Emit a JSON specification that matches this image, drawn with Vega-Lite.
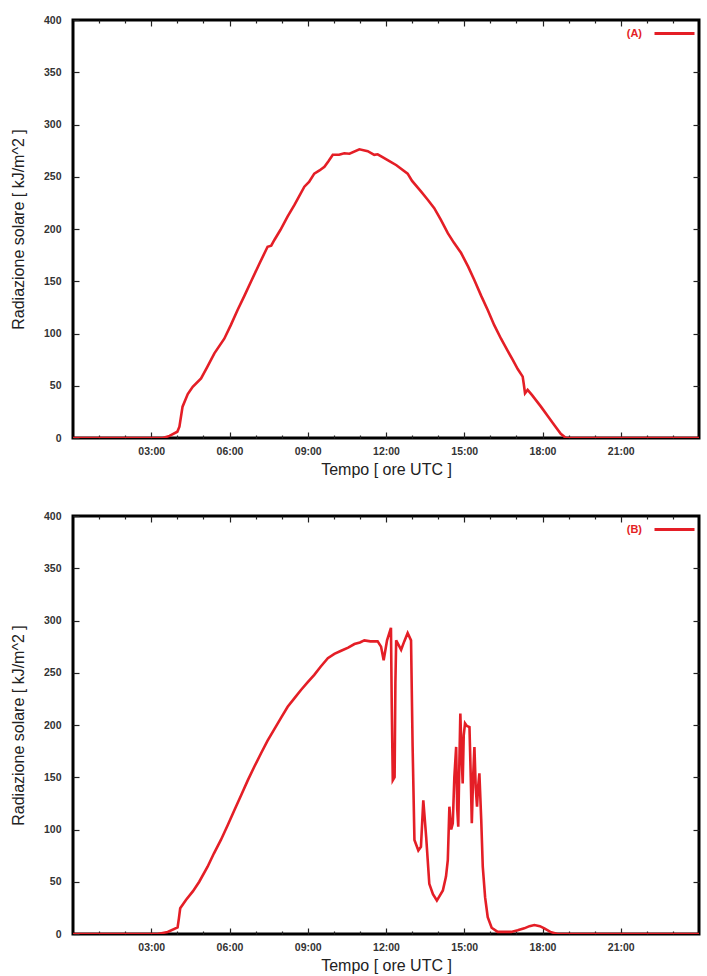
{
  "$schema": "https://vega.github.io/schema/vega-lite/v6.json",
  "background": "white",
  "padding": {"left": 8, "top": 10, "right": 8, "bottom": 2},
  "spacing": 27,
  "config": {
    "view": {"stroke": "black", "strokeWidth": 3},
    "font": "Liberation Sans",
    "axis": {
      "domain": false,
      "grid": false,
      "tickColor": "#222",
      "tickWidth": 1.2,
      "labelFont": "Liberation Sans",
      "labelFontSize": 10.5,
      "labelFontWeight": "bold",
      "labelColor": "#333",
      "titleFont": "Liberation Sans",
      "titleFontSize": 16,
      "titleFontWeight": "normal",
      "titleColor": "#222"
    },
    "legend": {
      "labelFont": "Liberation Sans",
      "labelFontSize": 11,
      "labelFontWeight": "bold",
      "labelColor": "#e41e26"
    }
  },
  "datasets": {
    "A": [
      {"s":"(A)","h":0,"v":0},{"s":"(A)","h":3.44,"v":0},{"s":"(A)","h":3.7,"v":2},{"s":"(A)","h":4.0,"v":6},{"s":"(A)","h":4.08,"v":10.8},{"s":"(A)","h":4.2,"v":30},{"s":"(A)","h":4.4,"v":42},{"s":"(A)","h":4.59,"v":49},{"s":"(A)","h":4.91,"v":57},{"s":"(A)","h":5.15,"v":68},{"s":"(A)","h":5.42,"v":81},{"s":"(A)","h":5.8,"v":95},{"s":"(A)","h":6.05,"v":108},{"s":"(A)","h":6.31,"v":122.5},{"s":"(A)","h":6.57,"v":136},{"s":"(A)","h":6.83,"v":150},{"s":"(A)","h":7.15,"v":167},{"s":"(A)","h":7.46,"v":183},{"s":"(A)","h":7.6,"v":184},{"s":"(A)","h":7.72,"v":189.5},{"s":"(A)","h":7.95,"v":199},{"s":"(A)","h":8.23,"v":212},{"s":"(A)","h":8.49,"v":223},{"s":"(A)","h":8.87,"v":240.5},{"s":"(A)","h":9.05,"v":245},{"s":"(A)","h":9.25,"v":253},{"s":"(A)","h":9.45,"v":256},{"s":"(A)","h":9.64,"v":259.6},{"s":"(A)","h":9.8,"v":265},{"s":"(A)","h":9.96,"v":271},{"s":"(A)","h":10.2,"v":271},{"s":"(A)","h":10.4,"v":272.5},{"s":"(A)","h":10.6,"v":272},{"s":"(A)","h":10.98,"v":276.3},{"s":"(A)","h":11.3,"v":274.5},{"s":"(A)","h":11.55,"v":271},{"s":"(A)","h":11.68,"v":271.5},{"s":"(A)","h":11.85,"v":269},{"s":"(A)","h":12.13,"v":265},{"s":"(A)","h":12.4,"v":261},{"s":"(A)","h":12.83,"v":253},{"s":"(A)","h":13.0,"v":246},{"s":"(A)","h":13.34,"v":236},{"s":"(A)","h":13.6,"v":228},{"s":"(A)","h":13.85,"v":220},{"s":"(A)","h":14.1,"v":209},{"s":"(A)","h":14.37,"v":196},{"s":"(A)","h":14.6,"v":187},{"s":"(A)","h":14.88,"v":177},{"s":"(A)","h":15.15,"v":164},{"s":"(A)","h":15.39,"v":151},{"s":"(A)","h":15.65,"v":136},{"s":"(A)","h":15.9,"v":122.5},{"s":"(A)","h":16.15,"v":108},{"s":"(A)","h":16.41,"v":95},{"s":"(A)","h":16.65,"v":84},{"s":"(A)","h":16.86,"v":74.7},{"s":"(A)","h":17.05,"v":66},{"s":"(A)","h":17.24,"v":58.7},{"s":"(A)","h":17.28,"v":52},{"s":"(A)","h":17.33,"v":42.8},{"s":"(A)","h":17.43,"v":46},{"s":"(A)","h":17.6,"v":41},{"s":"(A)","h":17.94,"v":30},{"s":"(A)","h":18.2,"v":21},{"s":"(A)","h":18.45,"v":12.4},{"s":"(A)","h":18.7,"v":4},{"s":"(A)","h":18.9,"v":0},{"s":"(A)","h":24,"v":0}
    ],
    "B": [
      {"s":"(B)","h":0,"v":0},{"s":"(B)","h":3.25,"v":0},{"s":"(B)","h":3.63,"v":2},{"s":"(B)","h":4.01,"v":6.4},{"s":"(B)","h":4.06,"v":15},{"s":"(B)","h":4.11,"v":24.6},{"s":"(B)","h":4.33,"v":32.5},{"s":"(B)","h":4.6,"v":41},{"s":"(B)","h":4.84,"v":50},{"s":"(B)","h":5.16,"v":64.4},{"s":"(B)","h":5.4,"v":77},{"s":"(B)","h":5.67,"v":90},{"s":"(B)","h":5.93,"v":104},{"s":"(B)","h":6.19,"v":118.7},{"s":"(B)","h":6.45,"v":133},{"s":"(B)","h":6.7,"v":147},{"s":"(B)","h":6.95,"v":160},{"s":"(B)","h":7.21,"v":173},{"s":"(B)","h":7.46,"v":185},{"s":"(B)","h":7.72,"v":196},{"s":"(B)","h":7.98,"v":207},{"s":"(B)","h":8.23,"v":217.5},{"s":"(B)","h":8.5,"v":226},{"s":"(B)","h":8.74,"v":233.5},{"s":"(B)","h":9.0,"v":241},{"s":"(B)","h":9.25,"v":248},{"s":"(B)","h":9.5,"v":256},{"s":"(B)","h":9.77,"v":264},{"s":"(B)","h":10.02,"v":268},{"s":"(B)","h":10.28,"v":271},{"s":"(B)","h":10.55,"v":274},{"s":"(B)","h":10.79,"v":277.5},{"s":"(B)","h":11.0,"v":279},{"s":"(B)","h":11.17,"v":281},{"s":"(B)","h":11.4,"v":280},{"s":"(B)","h":11.68,"v":280},{"s":"(B)","h":11.81,"v":275},{"s":"(B)","h":11.91,"v":262},{"s":"(B)","h":12.04,"v":281},{"s":"(B)","h":12.19,"v":293},{"s":"(B)","h":12.22,"v":220},{"s":"(B)","h":12.26,"v":147},{"s":"(B)","h":12.33,"v":150},{"s":"(B)","h":12.36,"v":240},{"s":"(B)","h":12.39,"v":281},{"s":"(B)","h":12.58,"v":272},{"s":"(B)","h":12.7,"v":280},{"s":"(B)","h":12.83,"v":288},{"s":"(B)","h":12.96,"v":281},{"s":"(B)","h":13.02,"v":180},{"s":"(B)","h":13.09,"v":90},{"s":"(B)","h":13.24,"v":80},{"s":"(B)","h":13.34,"v":83.5},{"s":"(B)","h":13.43,"v":128},{"s":"(B)","h":13.54,"v":93},{"s":"(B)","h":13.66,"v":48},{"s":"(B)","h":13.8,"v":38},{"s":"(B)","h":13.95,"v":32},{"s":"(B)","h":14.18,"v":41.6},{"s":"(B)","h":14.3,"v":55},{"s":"(B)","h":14.37,"v":70.8},{"s":"(B)","h":14.43,"v":121.8},{"s":"(B)","h":14.5,"v":100},{"s":"(B)","h":14.56,"v":106},{"s":"(B)","h":14.62,"v":150},{"s":"(B)","h":14.69,"v":179},{"s":"(B)","h":14.73,"v":120},{"s":"(B)","h":14.77,"v":102.7},{"s":"(B)","h":14.81,"v":160},{"s":"(B)","h":14.85,"v":211},{"s":"(B)","h":14.9,"v":170},{"s":"(B)","h":14.94,"v":144},{"s":"(B)","h":14.98,"v":190},{"s":"(B)","h":15.03,"v":201.5},{"s":"(B)","h":15.1,"v":199},{"s":"(B)","h":15.2,"v":198},{"s":"(B)","h":15.25,"v":150},{"s":"(B)","h":15.29,"v":106},{"s":"(B)","h":15.34,"v":150},{"s":"(B)","h":15.39,"v":179},{"s":"(B)","h":15.44,"v":140},{"s":"(B)","h":15.49,"v":121.8},{"s":"(B)","h":15.53,"v":140},{"s":"(B)","h":15.58,"v":153.7},{"s":"(B)","h":15.65,"v":110},{"s":"(B)","h":15.71,"v":64.4},{"s":"(B)","h":15.8,"v":35},{"s":"(B)","h":15.9,"v":16},{"s":"(B)","h":16.05,"v":6},{"s":"(B)","h":16.28,"v":2},{"s":"(B)","h":16.8,"v":2},{"s":"(B)","h":17.05,"v":3.5},{"s":"(B)","h":17.3,"v":5.4},{"s":"(B)","h":17.5,"v":7.5},{"s":"(B)","h":17.69,"v":8.6},{"s":"(B)","h":17.9,"v":7.5},{"s":"(B)","h":18.07,"v":5.4},{"s":"(B)","h":18.3,"v":2},{"s":"(B)","h":18.58,"v":0},{"s":"(B)","h":24,"v":0}
    ]
  },
  "resolve": {"scale": {"color": "independent"}, "legend": {"color": "independent"}},
  "vconcat": [
    {
      "width": 626, "height": 418,
      "data": {"name": "A"},
      "resolve": {"axis": {"x": "independent", "y": "independent"}},
      "layer": [
        {
          "mark": {"type": "line", "strokeWidth": 2.6, "clip": true},
          "encoding": {
            "x": {"field": "h", "type": "quantitative", "scale": {"domain": [0, 24], "nice": false}, "title": "Tempo [ ore UTC ]",
                  "axis": {"orient": "bottom", "values": [3, 6, 9, 12, 15, 18, 21], "tickSize": -6, "labelPadding": 14, "titlePadding": 5,
                           "labelExpr": "(datum.value < 10 ? '0' : '') + datum.value + ':00'"}},
            "y": {"field": "v", "type": "quantitative", "scale": {"domain": [0, 400], "nice": false}, "title": "Radiazione solare [ kJ/m^2 ]",
                  "axis": {"orient": "left", "values": [0, 50, 100, 150, 200, 250, 300, 350, 400], "tickSize": -6, "labelPadding": 18, "titlePadding": 17}},
            "color": {"field": "s", "type": "nominal", "scale": {"range": ["#e41e26"]},
                      "legend": {"orient": "none", "legendX": 580, "legendY": -8, "title": null, "symbolType": "stroke", "symbolSize": 1600, "symbolStrokeWidth": 3, "labelAlign": "right", "labelOffset": -54, "padding": 0}}
          }
        },
        {
          "mark": {"type": "line", "opacity": 0},
          "encoding": {
            "x": {"field": "h", "type": "quantitative", "title": null,
                  "axis": {"orient": "bottom", "values": [1,2,4,5,7,8,10,11,13,14,16,17,19,20,22,23], "tickSize": -3, "labels": false}},
            "y": {"field": "v", "type": "quantitative", "title": null,
                  "axis": {"orient": "right", "values": [50, 100, 150, 200, 250, 300, 350], "tickSize": -6, "labels": false}}
          }
        },
        {
          "mark": {"type": "line", "opacity": 0},
          "encoding": {
            "x": {"field": "h", "type": "quantitative", "title": null,
                  "axis": {"orient": "top", "values": [1,2,4,5,7,8,10,11,13,14,16,17,19,20,22,23], "tickSize": -3, "labels": false}},
            "y": {"field": "v", "type": "quantitative", "axis": null}
          }
        },
        {
          "mark": {"type": "line", "opacity": 0},
          "encoding": {
            "x": {"field": "h", "type": "quantitative", "title": null,
                  "axis": {"orient": "top", "values": [3, 6, 9, 12, 15, 18, 21], "tickSize": -6, "labels": false}},
            "y": {"field": "v", "type": "quantitative", "axis": null}
          }
        }
      ]
    },
    {
      "width": 626, "height": 418,
      "data": {"name": "B"},
      "resolve": {"axis": {"x": "independent", "y": "independent"}},
      "layer": [
        {
          "mark": {"type": "line", "strokeWidth": 2.6, "clip": true},
          "encoding": {
            "x": {"field": "h", "type": "quantitative", "scale": {"domain": [0, 24], "nice": false}, "title": "Tempo [ ore UTC ]",
                  "axis": {"orient": "bottom", "values": [3, 6, 9, 12, 15, 18, 21], "tickSize": -6, "labelPadding": 14, "titlePadding": 5,
                           "labelExpr": "(datum.value < 10 ? '0' : '') + datum.value + ':00'"}},
            "y": {"field": "v", "type": "quantitative", "scale": {"domain": [0, 400], "nice": false}, "title": "Radiazione solare [ kJ/m^2 ]",
                  "axis": {"orient": "left", "values": [0, 50, 100, 150, 200, 250, 300, 350, 400], "tickSize": -6, "labelPadding": 18, "titlePadding": 17}},
            "color": {"field": "s", "type": "nominal", "scale": {"range": ["#e41e26"]},
                      "legend": {"orient": "none", "legendX": 580, "legendY": -8, "title": null, "symbolType": "stroke", "symbolSize": 1600, "symbolStrokeWidth": 3, "labelAlign": "right", "labelOffset": -54, "padding": 0}}
          }
        },
        {
          "mark": {"type": "line", "opacity": 0},
          "encoding": {
            "x": {"field": "h", "type": "quantitative", "title": null,
                  "axis": {"orient": "bottom", "values": [1,2,4,5,7,8,10,11,13,14,16,17,19,20,22,23], "tickSize": -3, "labels": false}},
            "y": {"field": "v", "type": "quantitative", "title": null,
                  "axis": {"orient": "right", "values": [50, 100, 150, 200, 250, 300, 350], "tickSize": -6, "labels": false}}
          }
        },
        {
          "mark": {"type": "line", "opacity": 0},
          "encoding": {
            "x": {"field": "h", "type": "quantitative", "title": null,
                  "axis": {"orient": "top", "values": [1,2,4,5,7,8,10,11,13,14,16,17,19,20,22,23], "tickSize": -3, "labels": false}},
            "y": {"field": "v", "type": "quantitative", "axis": null}
          }
        },
        {
          "mark": {"type": "line", "opacity": 0},
          "encoding": {
            "x": {"field": "h", "type": "quantitative", "title": null,
                  "axis": {"orient": "top", "values": [3, 6, 9, 12, 15, 18, 21], "tickSize": -6, "labels": false}},
            "y": {"field": "v", "type": "quantitative", "axis": null}
          }
        }
      ]
    }
  ]
}
